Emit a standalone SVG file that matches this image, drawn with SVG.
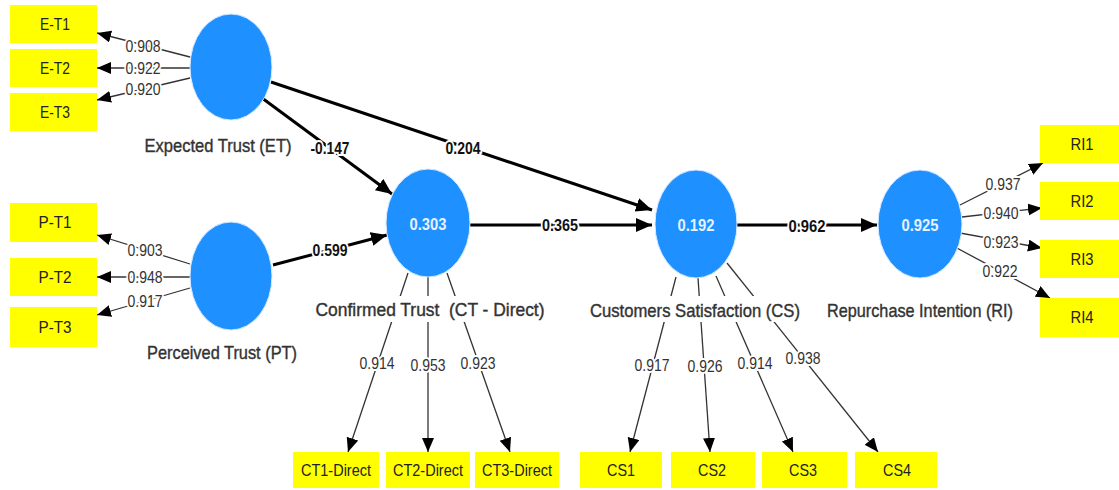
<svg xmlns="http://www.w3.org/2000/svg" width="1119" height="490" viewBox="0 0 1119 490">
<style>
text{font-family:"Liberation Sans",Arial,sans-serif;text-anchor:middle;dominant-baseline:central}
.box{fill:#ffff00}
.bt{font-size:17px;fill:#222}
.lv{fill:#1e90ff;stroke:#d6e9ff;stroke-width:1}
.lvt{font-size:17px;font-weight:bold;fill:#e6f2ff}
.nl{font-size:19px;fill:#333;stroke:#333;stroke-width:0.4}
.bg{fill:#fff}
.ld{stroke:#333;stroke-width:1.3;fill:none;marker-end:url(#ah)}
.pt{stroke:#000;stroke-width:3;fill:none;marker-end:url(#ahb)}
.ll{font-size:16px;fill:#333;stroke:#fff;stroke-width:4;paint-order:stroke}
.pl{font-size:17px;font-weight:bold;fill:#111;stroke:#fff;stroke-width:4;paint-order:stroke}
</style>
<defs>
<marker id="ah" markerUnits="userSpaceOnUse" markerWidth="16" markerHeight="14" refX="14" refY="6" orient="auto">
<path d="M0,0 L14,6 L0,12 z" fill="#000"/>
</marker>
<marker id="ahb" markerUnits="userSpaceOnUse" markerWidth="18" markerHeight="16" refX="16" refY="7" orient="auto">
<path d="M0,0 L16,7 L0,14 z" fill="#000"/>
</marker>
</defs>
<rect width="1119" height="490" fill="#fff"/>

<g id="connectors">
<line class="ld" x1="190" y1="57" x2="97" y2="33"/>
<line class="ld" x1="190" y1="68" x2="97" y2="68"/>
<line class="ld" x1="190" y1="78" x2="97" y2="100"/>
<line class="ld" x1="190" y1="264" x2="97" y2="235"/>
<line class="ld" x1="190" y1="277" x2="97" y2="277"/>
<line class="ld" x1="190" y1="288" x2="97" y2="315"/>
<line class="ld" x1="960" y1="205" x2="1043" y2="163"/>
<line class="ld" x1="962" y1="217" x2="1042" y2="208"/>
<line class="ld" x1="960" y1="233" x2="1042" y2="248"/>
<line class="ld" x1="955" y1="247" x2="1050" y2="298"/>
<line class="ld" x1="408" y1="273" x2="348" y2="452"/>
<line class="ld" x1="428" y1="277" x2="428" y2="452"/>
<line class="ld" x1="447" y1="273" x2="510" y2="452"/>
<line class="ld" x1="676" y1="277" x2="630" y2="452"/>
<line class="ld" x1="698" y1="278" x2="710" y2="452"/>
<line class="ld" x1="716" y1="276" x2="793" y2="452"/>
<line class="ld" x1="727" y1="263" x2="878" y2="452"/>
<line class="pt" x1="262" y1="98" x2="392" y2="194"/>
<line class="pt" x1="271" y1="82" x2="652" y2="210"/>
<line class="pt" x1="273" y1="265" x2="387" y2="235"/>
<line class="pt" x1="470" y1="225" x2="652" y2="225"/>
<line class="pt" x1="737" y1="225" x2="877" y2="225"/>
<text class="ll" x="143" y="46" textLength="35" lengthAdjust="spacingAndGlyphs">0.908</text>
<text class="ll" x="143" y="68" textLength="35" lengthAdjust="spacingAndGlyphs">0.922</text>
<text class="ll" x="143" y="89" textLength="35" lengthAdjust="spacingAndGlyphs">0.920</text>
<text class="ll" x="145" y="250" textLength="35" lengthAdjust="spacingAndGlyphs">0.903</text>
<text class="ll" x="145" y="277" textLength="35" lengthAdjust="spacingAndGlyphs">0.948</text>
<text class="ll" x="145" y="301" textLength="35" lengthAdjust="spacingAndGlyphs">0.917</text>
<text class="ll" x="1003" y="184" textLength="35" lengthAdjust="spacingAndGlyphs">0.937</text>
<text class="ll" x="1001" y="213" textLength="35" lengthAdjust="spacingAndGlyphs">0.940</text>
<text class="ll" x="1001" y="242" textLength="35" lengthAdjust="spacingAndGlyphs">0.923</text>
<text class="ll" x="1000" y="271" textLength="35" lengthAdjust="spacingAndGlyphs">0.922</text>
<text class="ll" x="377" y="363" textLength="35" lengthAdjust="spacingAndGlyphs">0.914</text>
<text class="ll" x="428" y="365" textLength="35" lengthAdjust="spacingAndGlyphs">0.953</text>
<text class="ll" x="478" y="363" textLength="35" lengthAdjust="spacingAndGlyphs">0.923</text>
<text class="ll" x="652" y="365" textLength="35" lengthAdjust="spacingAndGlyphs">0.917</text>
<text class="ll" x="705" y="366" textLength="35" lengthAdjust="spacingAndGlyphs">0.926</text>
<text class="ll" x="755" y="363" textLength="35" lengthAdjust="spacingAndGlyphs">0.914</text>
<text class="ll" x="803" y="358" textLength="35" lengthAdjust="spacingAndGlyphs">0.938</text>
<text class="pl" x="330" y="148" textLength="39" lengthAdjust="spacingAndGlyphs">-0.147</text>
<text class="pl" x="463" y="148" textLength="35" lengthAdjust="spacingAndGlyphs">0.204</text>
<text class="pl" x="330" y="250" textLength="35" lengthAdjust="spacingAndGlyphs">0.599</text>
<text class="pl" x="560" y="225" textLength="36" lengthAdjust="spacingAndGlyphs">0.365</text>
<text class="pl" x="807" y="226" textLength="37" lengthAdjust="spacingAndGlyphs">0.962</text>
</g>

<g id="ET">
<ellipse class="lv" cx="231" cy="67" rx="41" ry="53"/>
<text class="nl" x="218" y="145" textLength="147" lengthAdjust="spacingAndGlyphs">Expected Trust (ET)</text>
</g>
<g id="PT">
<ellipse class="lv" cx="231" cy="276" rx="41" ry="54"/>
<text class="nl" x="222" y="352" textLength="150" lengthAdjust="spacingAndGlyphs">Perceived Trust (PT)</text>
</g>
<g id="CT">
<ellipse class="lv" cx="428" cy="223" rx="42" ry="54"/>
<text class="lvt" x="428" y="224" textLength="37" lengthAdjust="spacingAndGlyphs">0.303</text>
<rect class="bg" x="313" y="296" width="234" height="26"/>
<text class="nl" x="430" y="309" xml:space="preserve" textLength="229" lengthAdjust="spacingAndGlyphs">Confirmed Trust  (CT - Direct)</text>
</g>
<g id="CS">
<ellipse class="lv" cx="696" cy="224" rx="41" ry="54"/>
<text class="lvt" x="696" y="225" textLength="37" lengthAdjust="spacingAndGlyphs">0.192</text>
<rect class="bg" x="588" y="296" width="214" height="26"/>
<text class="nl" x="695" y="310" textLength="210" lengthAdjust="spacingAndGlyphs">Customers Satisfaction (CS)</text>
</g>
<g id="RI">
<ellipse class="lv" cx="920" cy="224" rx="42" ry="54"/>
<text class="lvt" x="920" y="225" textLength="37" lengthAdjust="spacingAndGlyphs">0.925</text>
<text class="nl" x="920" y="310" textLength="186" lengthAdjust="spacingAndGlyphs">Repurchase Intention (RI)</text>
</g>

<g id="E-T1"><rect class="box" x="10" y="5" width="87" height="38"/><text class="bt" x="55" y="24" textLength="30" lengthAdjust="spacingAndGlyphs">E-T1</text></g>
<g id="E-T2"><rect class="box" x="10" y="49" width="87" height="38"/><text class="bt" x="55" y="68" textLength="30" lengthAdjust="spacingAndGlyphs">E-T2</text></g>
<g id="E-T3"><rect class="box" x="10" y="93" width="87" height="38"/><text class="bt" x="55" y="112" textLength="30" lengthAdjust="spacingAndGlyphs">E-T3</text></g>
<g id="P-T1"><rect class="box" x="10" y="203" width="87" height="39"/><text class="bt" x="55" y="222" textLength="33" lengthAdjust="spacingAndGlyphs">P-T1</text></g>
<g id="P-T2"><rect class="box" x="10" y="258" width="87" height="38"/><text class="bt" x="55" y="277" textLength="33" lengthAdjust="spacingAndGlyphs">P-T2</text></g>
<g id="P-T3"><rect class="box" x="10" y="307" width="87" height="40"/><text class="bt" x="55" y="327" textLength="33" lengthAdjust="spacingAndGlyphs">P-T3</text></g>
<g id="RI1"><rect class="box" x="1040" y="125" width="79" height="38"/><text class="bt" x="1082" y="144" textLength="23" lengthAdjust="spacingAndGlyphs">RI1</text></g>
<g id="RI2"><rect class="box" x="1040" y="182" width="79" height="38"/><text class="bt" x="1082" y="201" textLength="23" lengthAdjust="spacingAndGlyphs">RI2</text></g>
<g id="RI3"><rect class="box" x="1040" y="240" width="79" height="38"/><text class="bt" x="1082" y="259" textLength="23" lengthAdjust="spacingAndGlyphs">RI3</text></g>
<g id="RI4"><rect class="box" x="1040" y="298" width="79" height="39"/><text class="bt" x="1082" y="317" textLength="23" lengthAdjust="spacingAndGlyphs">RI4</text></g>
<g id="CT1"><rect class="box" x="293" y="452" width="86" height="36"/><text class="bt" x="336" y="470" textLength="70" lengthAdjust="spacingAndGlyphs">CT1-Direct</text></g>
<g id="CT2"><rect class="box" x="386" y="452" width="84" height="36"/><text class="bt" x="428" y="470" textLength="70" lengthAdjust="spacingAndGlyphs">CT2-Direct</text></g>
<g id="CT3"><rect class="box" x="475" y="452" width="84" height="36"/><text class="bt" x="517" y="470" textLength="70" lengthAdjust="spacingAndGlyphs">CT3-Direct</text></g>
<g id="CS1"><rect class="box" x="580" y="452" width="82" height="36"/><text class="bt" x="621" y="470" textLength="28" lengthAdjust="spacingAndGlyphs">CS1</text></g>
<g id="CS2"><rect class="box" x="671" y="452" width="84" height="36"/><text class="bt" x="712" y="470" textLength="28" lengthAdjust="spacingAndGlyphs">CS2</text></g>
<g id="CS3"><rect class="box" x="762" y="452" width="85" height="36"/><text class="bt" x="803" y="470" textLength="28" lengthAdjust="spacingAndGlyphs">CS3</text></g>
<g id="CS4"><rect class="box" x="855" y="452" width="82" height="36"/><text class="bt" x="897" y="470" textLength="28" lengthAdjust="spacingAndGlyphs">CS4</text></g>
</svg>
